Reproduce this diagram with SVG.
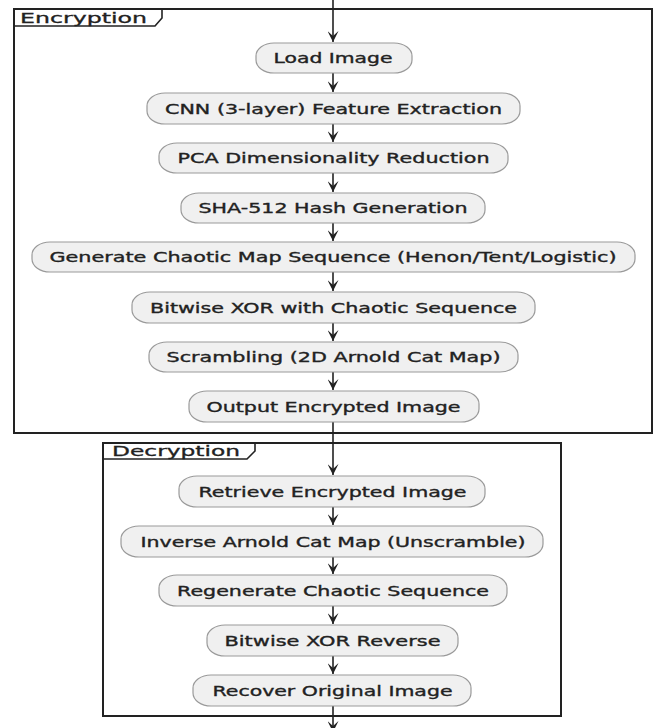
<svg xmlns="http://www.w3.org/2000/svg" width="661" height="728" viewBox="0 0 661 728">
<defs>
<style>
.frame{fill:#fff;stroke:#222;stroke-width:2}
.tab{fill:none;stroke:#222;stroke-width:1.6}
.ttl{font-family:"DejaVu Sans",Verdana,sans-serif;font-size:14px;fill:#222;stroke:#222;stroke-width:0.3}
.box{fill:#f0f0f0;stroke:#9a9a9a;stroke-width:1.2}
.lbl{font-family:"DejaVu Sans",Verdana,sans-serif;font-size:14px;fill:#222;stroke:#222;stroke-width:0.35;text-anchor:middle}
.ln{stroke:#222;stroke-width:1.6;fill:none}
.ah{fill:#222}
</style>
<marker id="arr" viewBox="0 0 11 11" refX="11" refY="5.5" markerWidth="11" markerHeight="11" markerUnits="userSpaceOnUse" orient="auto">
<path d="M0,0 L11,5.5 L0,11 L5,5.5 Z" class="ah"/>
</marker>
</defs>
<rect width="661" height="728" fill="#fff"/>
<g id="encryption-frame">
<rect class="frame" x="14" y="9" width="638" height="424"/>
<path class="tab" d="M14,26 H155 L162,18 V9"/>
<text class="ttl" x="20" y="22.5" textLength="127" lengthAdjust="spacingAndGlyphs">Encryption</text>
</g>
<g id="decryption-frame">
<rect class="frame" x="103" y="443" width="458" height="273"/>
<path class="tab" d="M103,459 H247 L255,451 V443"/>
<text class="ttl" x="112" y="456" textLength="128" lengthAdjust="spacingAndGlyphs">Decryption</text>
</g>
<g id="connectors">
<line class="ln" x1="333" y1="0" x2="333" y2="42" marker-end="url(#arr)"/>
<line class="ln" x1="333" y1="73" x2="333" y2="92" marker-end="url(#arr)"/>
<line class="ln" x1="333" y1="124" x2="333" y2="142" marker-end="url(#arr)"/>
<line class="ln" x1="333" y1="173" x2="333" y2="192" marker-end="url(#arr)"/>
<line class="ln" x1="333" y1="223" x2="333" y2="241" marker-end="url(#arr)"/>
<line class="ln" x1="333" y1="272" x2="333" y2="291" marker-end="url(#arr)"/>
<line class="ln" x1="333" y1="323" x2="333" y2="341" marker-end="url(#arr)"/>
<line class="ln" x1="333" y1="372" x2="333" y2="390" marker-end="url(#arr)"/>
<line class="ln" x1="333" y1="422" x2="333" y2="475" marker-end="url(#arr)"/>
<line class="ln" x1="333" y1="507" x2="333" y2="525" marker-end="url(#arr)"/>
<line class="ln" x1="333" y1="557" x2="333" y2="574" marker-end="url(#arr)"/>
<line class="ln" x1="333" y1="606" x2="333" y2="624" marker-end="url(#arr)"/>
<line class="ln" x1="333" y1="656" x2="333" y2="674" marker-end="url(#arr)"/>
<line class="ln" x1="333" y1="706" x2="333" y2="732" marker-end="url(#arr)"/>
</g>
<g id="n1"><rect class="box" x="256" y="43" width="156" height="30" rx="18" ry="13"/><text class="lbl" x="333" y="63" textLength="119" lengthAdjust="spacingAndGlyphs">Load Image</text></g>
<g id="n2"><rect class="box" x="147" y="93" width="373" height="31" rx="18" ry="13"/><text class="lbl" x="333.5" y="113.5" textLength="337" lengthAdjust="spacingAndGlyphs">CNN (3-layer) Feature Extraction</text></g>
<g id="n3"><rect class="box" x="159" y="143" width="349" height="30" rx="18" ry="13"/><text class="lbl" x="333.5" y="163" textLength="312" lengthAdjust="spacingAndGlyphs">PCA Dimensionality Reduction</text></g>
<g id="n4"><rect class="box" x="181" y="193" width="304" height="30" rx="18" ry="13"/><text class="lbl" x="333" y="213" textLength="269" lengthAdjust="spacingAndGlyphs">SHA-512 Hash Generation</text></g>
<g id="n5"><rect class="box" x="32" y="242" width="603" height="30" rx="18" ry="13"/><text class="lbl" x="333" y="262" textLength="567" lengthAdjust="spacingAndGlyphs">Generate Chaotic Map Sequence (Henon/Tent/Logistic)</text></g>
<g id="n6"><rect class="box" x="132" y="292" width="403" height="31" rx="18" ry="13"/><text class="lbl" x="333.5" y="312.5" textLength="367" lengthAdjust="spacingAndGlyphs">Bitwise XOR with Chaotic Sequence</text></g>
<g id="n7"><rect class="box" x="149" y="342" width="369" height="30" rx="18" ry="13"/><text class="lbl" x="333.5" y="362" textLength="334" lengthAdjust="spacingAndGlyphs">Scrambling (2D Arnold Cat Map)</text></g>
<g id="n8"><rect class="box" x="189" y="391" width="290" height="31" rx="18" ry="13"/><text class="lbl" x="333.5" y="411.5" textLength="254" lengthAdjust="spacingAndGlyphs">Output Encrypted Image</text></g>
<g id="n9"><rect class="box" x="179" y="476" width="306" height="31" rx="18" ry="13"/><text class="lbl" x="332.5" y="496.5" textLength="268" lengthAdjust="spacingAndGlyphs">Retrieve Encrypted Image</text></g>
<g id="n10"><rect class="box" x="121" y="526" width="422" height="31" rx="18" ry="13"/><text class="lbl" x="333" y="546.5" textLength="385" lengthAdjust="spacingAndGlyphs">Inverse Arnold Cat Map (Unscramble)</text></g>
<g id="n11"><rect class="box" x="159" y="575" width="348" height="31" rx="18" ry="13"/><text class="lbl" x="333" y="595.5" textLength="312" lengthAdjust="spacingAndGlyphs">Regenerate Chaotic Sequence</text></g>
<g id="n12"><rect class="box" x="207" y="625" width="251" height="31" rx="18" ry="13"/><text class="lbl" x="332.5" y="645.5" textLength="216" lengthAdjust="spacingAndGlyphs">Bitwise XOR Reverse</text></g>
<g id="n13"><rect class="box" x="193" y="675" width="278" height="31" rx="18" ry="13"/><text class="lbl" x="332.5" y="695.5" textLength="240" lengthAdjust="spacingAndGlyphs">Recover Original Image</text></g>
</svg>
